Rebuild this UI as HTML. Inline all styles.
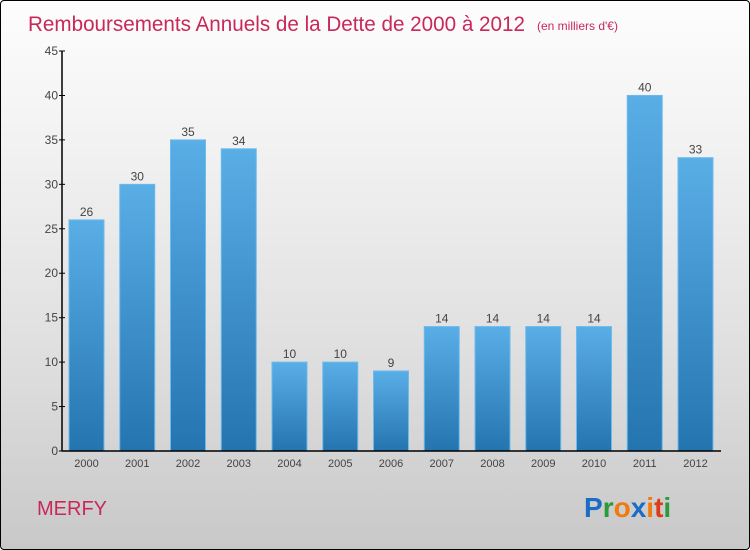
<!DOCTYPE html>
<html><head><meta charset="utf-8"><style>
body{margin:0;width:750px;height:550px;overflow:hidden}
#frame{position:absolute;left:0;top:0;width:748px;height:548px;border:1px solid #000;border-radius:4px;background:linear-gradient(#fdfdfd,#f0f0f0 30%,#dcdcdc 70%,#c8c8c8);overflow:hidden}
svg text{font-family:"Liberation Sans",sans-serif}
</style></head><body>
<div id="frame">
<svg id="chart" width="750" height="550">
<defs><linearGradient id="bg" x1="0" y1="0" x2="0" y2="1"><stop offset="0" stop-color="#5aaee6"/><stop offset="1" stop-color="#2474b0"/></linearGradient></defs>
<text x="27" y="30" font-size="21" fill="#c8285a" textLength="497" lengthAdjust="spacingAndGlyphs">Remboursements Annuels de la Dette de 2000 à 2012</text>
<text x="536" y="29" font-size="12" fill="#c8285a">(en milliers d'€)</text>
<text x="36" y="514" font-size="20" fill="#c8285a">MERFY</text>
<text x="583" y="516" font-size="28" font-weight="bold"><tspan fill="#1a6cc4">P</tspan><tspan fill="#2a9a3a">r</tspan><tspan fill="#f07a10">o</tspan><tspan fill="#1a6cc4">x</tspan><tspan fill="#f07a10">i</tspan><tspan fill="#e03a1a">t</tspan><tspan fill="#2a9a3a">i</tspan></text>
<g id="plot"></g>
</svg></div>
<script>
const categories=["2000","2001","2002","2003","2004","2005","2006","2007","2008","2009","2010","2011","2012"];
const values=[26,30,35,34,10,10,9,14,14,14,14,40,33];
const yTicks=[0,5,10,15,20,25,30,35,40,45];
const NS="http://www.w3.org/2000/svg";
const g=document.getElementById('plot');
const x0=61,x1=720,yb=450,yt=50,ymax=45;
const y=v=>yb-(v/ymax)*(yb-yt);
const step=50.75,bw=35;
const xc=i=>85.5+i*step;
function mk(t,a){const e=document.createElementNS(NS,t);for(const k in a)e.setAttribute(k,a[k]);g.appendChild(e);return e;}
categories.forEach((c,i)=>{
  const r=mk('rect',{x:xc(i)-bw/2,y:y(values[i]),width:bw,height:yb-y(values[i]),fill:'url(#bg)',stroke:'#6bbbee','stroke-width':1});
  
  
  const v=mk('text',{x:xc(i),y:y(values[i])-4,'font-size':12,fill:'#444','text-anchor':'middle'});v.textContent=values[i];
  
  
  const l=mk('text',{x:xc(i),y:466,'font-size':11,fill:'#444','text-anchor':'middle'});l.textContent=c;
  
  
});
yTicks.forEach(t=>{
  const tk=mk('line',{x1:x0-3,x2:x0+3,y1:y(t),y2:y(t),stroke:'#000'});
  
  
  const l=mk('text',{x:x0-4,y:y(t)+4,'font-size':12,fill:'#444','text-anchor':'end'});l.textContent=t;
  
  
});
const ya=mk('line',{x1:x0,x2:x0,y1:yt,y2:yb,stroke:'#000','stroke-width':1.5});


const xa=mk('line',{x1:x0,x2:x1,y1:yb,y2:yb,stroke:'#000','stroke-width':1.5});


</script>
</body></html>
